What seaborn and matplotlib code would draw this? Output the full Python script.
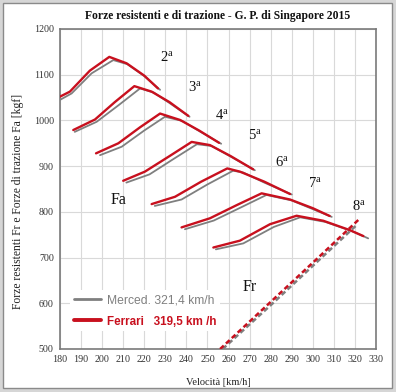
import numpy as np
import pandas as pd
import matplotlib
matplotlib.use("Agg")
import matplotlib.pyplot as plt
import seaborn as sns
from matplotlib.lines import Line2D
from matplotlib.patches import Rectangle

# ---------------- data ----------------
gears = ["2", "3", "4", "5", "6", "7", "8"]

ferrari_v = {
    "2": [180, 184.7, 194.2, 203.4, 211.6, 220, 226.5],
    "3": [186.3, 196.6, 206, 215.3, 223.5, 232, 240.9],
    "4": [197.1, 207.7, 218, 227.5, 237, 246, 255.5],
    "5": [210, 220.3, 232, 242.5, 251.2, 261, 271.7],
    "6": [223.5, 234.6, 247, 259.4, 265.4, 277, 289.2],
    "7": [237.7, 251.2, 264, 275.7, 289.2, 300, 308],
    "8": [252.8, 265.4, 279.7, 292.3, 305, 317.6, 324],
}
ferrari_F = {
    "2": [1052, 1063, 1109, 1139, 1125, 1098, 1070],
    "3": [979, 1002, 1040, 1075, 1063, 1040, 1010],
    "4": [928, 950, 985, 1015, 1001, 978, 951],
    "5": [868, 888, 922, 953, 946, 922, 893],
    "6": [817, 833, 866, 895, 888, 866, 839],
    "7": [766, 786, 815, 840.5, 827, 808, 791],
    "8": [722, 737, 773, 791.5, 780.5, 760, 747],
}
merced_v = {
    "2": [180, 185.5, 195, 205.3, 212, 220, 227.5],
    "3": [187, 197.4, 208, 218, 224.5, 232, 241.5],
    "4": [199, 209.3, 220, 229.8, 238, 246, 256.5],
    "5": [211.5, 222.5, 234, 245, 252, 261, 272.5],
    "6": [225, 237.7, 250, 262.2, 267, 277, 290],
    "7": [239.3, 253, 266, 278, 290, 300, 309],
    "8": [254, 267, 281.5, 294, 306, 318.5, 326.3],
}
merced_F = {
    "2": [1045, 1059, 1103, 1132, 1123, 1097, 1067],
    "3": [975, 997, 1034, 1070, 1061, 1038, 1008],
    "4": [924, 942.5, 978, 1008, 999, 977, 949],
    "5": [864, 882, 916, 948, 944, 921, 891],
    "6": [813, 827, 860, 890, 886, 864, 838],
    "7": [762, 781, 810, 837, 825, 806, 789],
    "8": [718, 731, 767, 788, 778, 758, 742],
}

# resistance forces (Fr)
fr_ferrari_v = [256, 279.3, 302.6, 322]
fr_ferrari_F = [500, 600, 700, 784]
fr_merced_v = [257.2, 281, 304.2, 321]
fr_merced_F = [500, 600, 700, 772]

x_ticks = list(range(180, 331, 10))
y_ticks = list(range(500, 1201, 100))

title = "Forze resistenti e di trazione - G. P. di Singapore 2015"
xlabel = "Velocità [km/h]"
ylabel = "Forze resistenti Fr e Forze di trazione Fa [kgf]"
leg_merced = "Merced. 321,4 km/h"
leg_ferrari = "Ferrari   319,5 km /h"

RED = "#c8101e"
GRAY = "#7f7f7f"

# ---------------- figure ----------------
sns.set_style("white")
plt.rcParams["font.family"] = ["Liberation Serif", "DejaVu Serif"]
plt.rcParams["mathtext.fontset"] = "custom"
plt.rcParams["mathtext.rm"] = "Liberation Serif"
plt.rcParams["mathtext.it"] = "Liberation Serif:italic"

W, H = 396, 392
fig = plt.figure(figsize=(W / 100, H / 100), dpi=100, facecolor="#d6d6d6")
# window-like frame
fig.patches.append(Rectangle((3 / W, 4 / H), 389 / W, 385 / H, transform=fig.transFigure,
                             facecolor="white", edgecolor="#8a8a8a", lw=1.0, zorder=-10))

ax = fig.add_axes([60 / W, 1 - 349 / H, 316 / W, 320 / H])
ax.set_zorder(5)
ax.set_facecolor("white")

rows = []
for g in gears:
    for v, f in zip(merced_v[g], merced_F[g]):
        rows.append(dict(v=v, F=f, gear=g, team="Merced"))
    for v, f in zip(ferrari_v[g], ferrari_F[g]):
        rows.append(dict(v=v, F=f, gear=g, team="Ferrari"))
df = pd.DataFrame(rows)

for g in gears:
    d = df[(df.gear == g) & (df.team == "Merced")]
    sns.lineplot(data=d, x="v", y="F", ax=ax, color=GRAY, lw=1.3, sort=False, zorder=3)
    d = df[(df.gear == g) & (df.team == "Ferrari")]
    sns.lineplot(data=d, x="v", y="F", ax=ax, color=RED, lw=1.7, sort=False, zorder=4)

sns.lineplot(x=fr_merced_v, y=fr_merced_F, ax=ax, color=GRAY, lw=1.8, sort=False,
             zorder=3).lines[-1].set_dashes([2.0, 1.2])
sns.lineplot(x=fr_ferrari_v, y=fr_ferrari_F, ax=ax, color=RED, lw=1.8, sort=False,
             zorder=4).lines[-1].set_dashes([2.0, 1.2])

ax.set_xlim(180, 330)
ax.set_ylim(500, 1200)
ax.set_xticks(x_ticks)
ax.set_yticks(y_ticks)
ax.grid(True, color="#d9d9d9", lw=0.8, zorder=0)
ax.set_axisbelow(True)
for s in ax.spines.values():
    s.set_color("#7a7a7a")
    s.set_linewidth(1.2)
ax.tick_params(axis="both", labelsize=7.2, colors="#333333", length=3, width=0.8,
               direction="out", pad=1.5)
ax.tick_params(axis="both", color="#7a7a7a")

ax.set_title(title, fontsize=8.4, fontweight="bold", color="#111111", pad=7)
ax.set_xlabel(xlabel, fontsize=7.5, color="#222222", labelpad=10)
ax.set_ylabel(ylabel, fontsize=8.4, color="#222222")
ax.yaxis.set_label_coords(-0.114, 0.4625)

# gear labels (left edge of the digit)
gear_pos = {"2": (227.5, 1138), "3": (240.7, 1073), "4": (253.6, 1012), "5": (269.2, 968),
            "6": (282, 909), "7": (297.7, 863), "8": (318.6, 813)}
for g in gears:
    x, y = gear_pos[g]
    ax.text(x, y, g + r"$^{\mathrm{a}}$", fontsize=10.5, ha="left", va="center", color="#111111")
ax.text(208, 826, "Fa", fontsize=11.5, ha="center", va="center", color="#111111")
ax.text(270, 635, "Fr", fontsize=11.5, ha="center", va="center", color="#111111")

handles = [Line2D([], [], color=GRAY, lw=2.0), Line2D([], [], color=RED, lw=2.8)]
leg = ax.legend(handles, [leg_merced, leg_ferrari], loc="upper left",
                bbox_to_anchor=(0.014, 0.202), frameon=True, framealpha=1,
                edgecolor="white", facecolor="white", handlelength=2.2,
                handletextpad=0.55, labelspacing=0.8, borderpad=0.3,
                prop={"family": ["Liberation Sans", "DejaVu Sans"], "size": 8.7})
leg.get_frame().set_linewidth(0)
leg.get_texts()[0].set_color("#808080")
leg.get_texts()[1].set_color(RED)
leg.get_texts()[1].set_fontweight("bold")
leg.get_texts()[1].set_fontsize(8.4)

fig.savefig("out.png", dpi=100, facecolor=fig.get_facecolor())
